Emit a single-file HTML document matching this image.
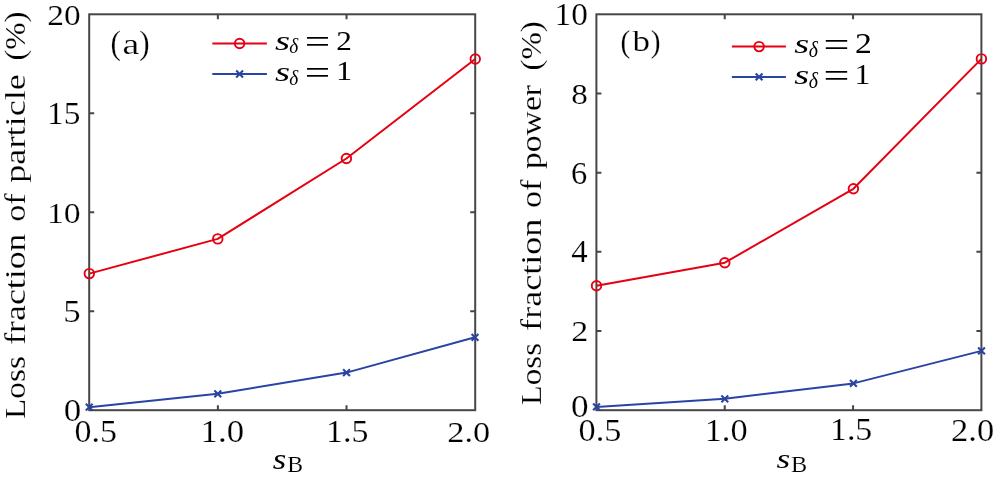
<!DOCTYPE html>
<html><head><meta charset="utf-8"><title>Loss fraction plots</title>
<style>html,body{margin:0;padding:0;background:#fff;}svg{display:block;}
text{font-family:"Liberation Serif","DejaVu Serif",serif;font-size:100px;fill:#000;stroke:#fff;stroke-width:0.6px;}
text.n{stroke:none;}
text.m{stroke:none;}</style></head>
<body><svg width="994" height="480" viewBox="0 0 994 480">
<rect width="994" height="480" fill="#fff"/>
<rect x="89.2" y="14.3" width="386" height="395.9" fill="none" stroke="#464646" stroke-width="2"/>
<path d="M217.867 410.2V405.2M217.867 14.3V19.3M346.533 410.2V405.2M346.533 14.3V19.3M89.2 311.225H94.2M475.2 311.225H470.2M89.2 212.25H94.2M475.2 212.25H470.2M89.2 113.275H94.2M475.2 113.275H470.2" stroke="#464646" stroke-width="2" fill="none"/>
<polyline points="89.3,273.6 217.75,238.9 346.4,158.5 475.25,59" fill="none" stroke="#e60012" stroke-width="2" stroke-linejoin="round"/>
<circle cx="89.3" cy="273.6" r="4.75" fill="none" stroke="#e60012" stroke-width="1.9"/>
<circle cx="217.75" cy="238.9" r="4.75" fill="none" stroke="#e60012" stroke-width="1.9"/>
<circle cx="346.4" cy="158.5" r="4.75" fill="none" stroke="#e60012" stroke-width="1.9"/>
<circle cx="475.25" cy="59" r="4.75" fill="none" stroke="#e60012" stroke-width="1.9"/>
<polyline points="89.2,407.2 217.8,393.8 346.5,372.6 475,337.3" fill="none" stroke="#2a44a3" stroke-width="2" stroke-linejoin="round"/>
<path d="M85.8 403.8l6.8 6.8M85.8 410.6l6.8 -6.8" stroke="#2a44a3" stroke-width="2.1" fill="none"/>
<path d="M214.4 390.4l6.8 6.8M214.4 397.2l6.8 -6.8" stroke="#2a44a3" stroke-width="2.1" fill="none"/>
<path d="M343.1 369.2l6.8 6.8M343.1 376l6.8 -6.8" stroke="#2a44a3" stroke-width="2.1" fill="none"/>
<path d="M471.6 333.9l6.8 6.8M471.6 340.7l6.8 -6.8" stroke="#2a44a3" stroke-width="2.1" fill="none"/>
<rect x="596.4" y="14.3" width="385" height="395.9" fill="none" stroke="#464646" stroke-width="2"/>
<path d="M724.733 410.2V405.2M724.733 14.3V19.3M853.067 410.2V405.2M853.067 14.3V19.3M596.4 331.02H601.4M981.4 331.02H976.4M596.4 251.84H601.4M981.4 251.84H976.4M596.4 172.66H601.4M981.4 172.66H976.4M596.4 93.48H601.4M981.4 93.48H976.4" stroke="#464646" stroke-width="2" fill="none"/>
<polyline points="596.5,285.7 724.8,262.7 853.4,188.8 981.4,58.9" fill="none" stroke="#e60012" stroke-width="2" stroke-linejoin="round"/>
<circle cx="596.5" cy="285.7" r="4.75" fill="none" stroke="#e60012" stroke-width="1.9"/>
<circle cx="724.8" cy="262.7" r="4.75" fill="none" stroke="#e60012" stroke-width="1.9"/>
<circle cx="853.4" cy="188.8" r="4.75" fill="none" stroke="#e60012" stroke-width="1.9"/>
<circle cx="981.4" cy="58.9" r="4.75" fill="none" stroke="#e60012" stroke-width="1.9"/>
<polyline points="596.5,406.9 724.8,398.8 853.4,383.4 981.5,350.9" fill="none" stroke="#2a44a3" stroke-width="2" stroke-linejoin="round"/>
<path d="M593.1 403.5l6.8 6.8M593.1 410.3l6.8 -6.8" stroke="#2a44a3" stroke-width="2.1" fill="none"/>
<path d="M721.4 395.4l6.8 6.8M721.4 402.2l6.8 -6.8" stroke="#2a44a3" stroke-width="2.1" fill="none"/>
<path d="M850 380l6.8 6.8M850 386.8l6.8 -6.8" stroke="#2a44a3" stroke-width="2.1" fill="none"/>
<path d="M978.1 347.5l6.8 6.8M978.1 354.3l6.8 -6.8" stroke="#2a44a3" stroke-width="2.1" fill="none"/>
<path d="M212.3 43.5H266.9" stroke="#e60012" stroke-width="2"/>
<circle cx="239.6" cy="43.5" r="4.75" fill="none" stroke="#e60012" stroke-width="1.9"/>
<path d="M212.3 74H266.9" stroke="#2a44a3" stroke-width="2"/>
<path d="M236.2 70.6l6.8 6.8M236.2 77.4l6.8 -6.8" stroke="#2a44a3" stroke-width="2.1" fill="none"/>
<path d="M731.9 46.6H785.9" stroke="#e60012" stroke-width="2"/>
<circle cx="759.1" cy="46.6" r="4.75" fill="none" stroke="#e60012" stroke-width="1.9"/>
<path d="M731.9 76.9H785.9" stroke="#2a44a3" stroke-width="2"/>
<path d="M755.7 73.5l6.8 6.8M755.7 80.3l6.8 -6.8" stroke="#2a44a3" stroke-width="2.1" fill="none"/>
<text transform="matrix(0.334 0 0 0.304 47.263 25.092)">20</text>
<text transform="matrix(0.334 0 0 0.315 47.104 123.685)">15</text>
<text transform="matrix(0.337 0 0 0.305 46.995 222.92)">10</text>
<text transform="matrix(0.348 0 0 0.314 63.261 321.716)">5</text>
<text transform="matrix(0.35 0 0 0.31 63.672 420.78)">0</text>
<text transform="matrix(0.34 0 0 0.314 74.4 441.921)">0.5</text>
<text transform="matrix(0.348 0 0 0.316 200.572 441.557)">1.0</text>
<text transform="matrix(0.34 0 0 0.317 325.926 441.873)">1.5</text>
<text transform="matrix(0.344 0 0 0.302 447.324 441.755)">2.0</text>
<text transform="translate(24.7 418.896) rotate(-90) scale(0.332 0.293)">Loss</text>
<text transform="translate(24.7 344.823) rotate(-90) scale(0.358 0.293)">fraction</text>
<text transform="translate(24.7 221.772) rotate(-90) scale(0.343 0.293)">of</text>
<text transform="translate(24.7 182.826) rotate(-90) scale(0.363 0.293)">particle</text>
<text transform="translate(24.7 60.611) rotate(-90) scale(0.328 0.293)">(%)</text>
<text transform="matrix(0.347 0 0 0.284 272.793 469.016)" style="font-style:italic" class="m">s</text>
<text transform="matrix(0.237 0 0 0.226 287.16 472.49)">B</text>
<text transform="matrix(0.312 0 0 0.337 110.562 54.401)">(</text>
<text transform="matrix(0.377 0 0 0.289 122.391 53.541)">a</text>
<text transform="matrix(0.313 0 0 0.338 139.28 54.422)">)</text>
<text transform="matrix(0.387 0 0 0.276 275.013 49.754)" style="font-style:italic" class="m">s</text>
<text transform="matrix(0.193 0 0 0.215 289.341 53.485)" style="font-style:italic" class="n">δ</text>
<text transform="matrix(0.451 0 0 0.336 304.645 53.456)" class="n">=</text>
<text transform="matrix(0.312 0 0 0.28 336.17 49.58)" class="n">2</text>
<text transform="matrix(0.388 0 0 0.268 275.002 80.752)" style="font-style:italic" class="m">s</text>
<text transform="matrix(0.193 0 0 0.215 289.341 84.925)" style="font-style:italic" class="n">δ</text>
<text transform="matrix(0.451 0 0 0.332 304.645 83.772)" class="n">=</text>
<text transform="matrix(0.325 0 0 0.277 335.909 80)" class="n">1</text>
<text transform="matrix(0.334 0 0 0.305 554.484 25.09)">10</text>
<text transform="matrix(0.332 0 0 0.3 571.261 103.769)">8</text>
<text transform="matrix(0.325 0 0 0.307 571.04 184.175)">6</text>
<text transform="matrix(0.328 0 0 0.311 571.253 262)">4</text>
<text transform="matrix(0.341 0 0 0.297 571.256 341.49)">2</text>
<text transform="matrix(0.352 0 0 0.32 571.073 417.269)">0</text>
<text transform="matrix(0.343 0 0 0.309 578.549 440.761)">0.5</text>
<text transform="matrix(0.344 0 0 0.308 704.678 440.745)">1.0</text>
<text transform="matrix(0.339 0 0 0.311 829.937 440.349)">1.5</text>
<text transform="matrix(0.345 0 0 0.312 951.098 440.736)">2.0</text>
<text transform="translate(541.4 405.291) rotate(-90) scale(0.33 0.293)">Loss</text>
<text transform="translate(541.4 330.884) rotate(-90) scale(0.361 0.293)">fraction</text>
<text transform="translate(541.4 208.067) rotate(-90) scale(0.342 0.293)">of</text>
<text transform="translate(541.4 168.971) rotate(-90) scale(0.336 0.293)">power</text>
<text transform="translate(541.4 70.516) rotate(-90) scale(0.329 0.293)">(%)</text>
<text transform="matrix(0.353 0 0 0.276 776.577 467.594)" style="font-style:italic" class="m">s</text>
<text transform="matrix(0.243 0 0 0.223 791.032 471.66)">B</text>
<text transform="matrix(0.293 0 0 0.323 620.526 52.019)">(</text>
<text transform="matrix(0.35 0 0 0.303 632.6 51.357)">b</text>
<text transform="matrix(0.294 0 0 0.324 650.628 52.137)">)</text>
<text transform="matrix(0.384 0 0 0.263 794.326 53.037)" style="font-style:italic" class="m">s</text>
<text transform="matrix(0.198 0 0 0.223 808.805 57.387)" style="font-style:italic" class="n">δ</text>
<text transform="matrix(0.46 0 0 0.352 823.602 57.092)" class="n">=</text>
<text transform="matrix(0.337 0 0 0.285 854.981 53.17)" class="n">2</text>
<text transform="matrix(0.383 0 0 0.277 794.337 84.013)" style="font-style:italic" class="m">s</text>
<text transform="matrix(0.198 0 0 0.223 808.805 88.407)" style="font-style:italic" class="n">δ</text>
<text transform="matrix(0.46 0 0 0.336 823.602 87.456)" class="n">=</text>
<text transform="matrix(0.316 0 0 0.289 854.603 83.58)" class="n">1</text>
</svg></body></html>
